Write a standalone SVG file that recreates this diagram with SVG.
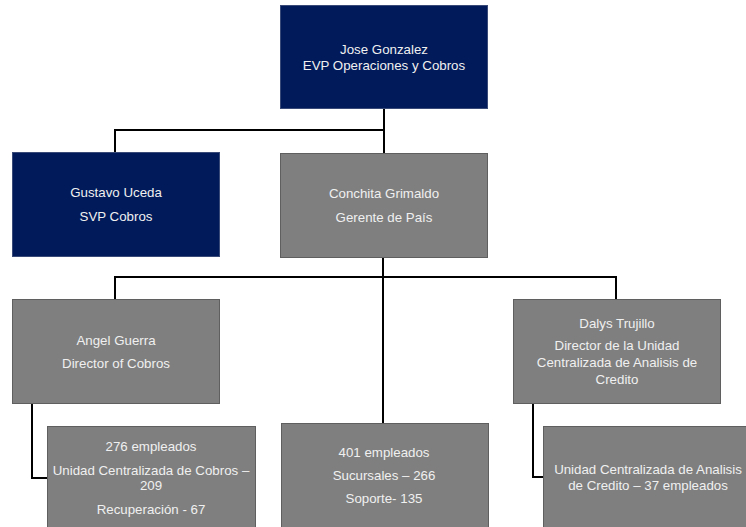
<svg xmlns="http://www.w3.org/2000/svg" width="746" height="527" viewBox="0 0 746 527">
<style>
.navy{fill:#001a5a;stroke:#3a4a78;stroke-width:1}
.grey{fill:#7f7f7f;stroke:#5f5f5f;stroke-width:1}
text{font-family:"Liberation Sans",Arial,sans-serif;font-size:13.3px;fill:#f0f0f0;text-anchor:middle}
.conn{fill:none;stroke:#000;stroke-width:2}
</style>
<rect width="746" height="527" fill="#fff"/>
<g id="connectors">
<path class="conn" d="M384 108 V153"/>
<path class="conn" d="M384 130 H115 V152"/>
<path class="conn" d="M383 257 V423"/>
<path class="conn" d="M115 299 V277 H616 V299"/>
<path class="conn" d="M32 403 V478 H47"/>
<path class="conn" d="M533 403 V477 H543"/>
</g>
<g id="jose">
<rect class="navy" x="280.5" y="5.5" width="207" height="103"/>
<text x="384" y="54">Jose Gonzalez</text>
<text x="384" y="70">EVP Operaciones y Cobros</text>
</g>
<g id="gustavo">
<rect class="navy" x="12.5" y="152.5" width="207" height="104"/>
<text x="116" y="197">Gustavo Uceda</text>
<text x="116" y="221">SVP Cobros</text>
</g>
<g id="conchita">
<rect class="grey" x="280.5" y="153.5" width="207" height="104"/>
<text x="384" y="198">Conchita Grimaldo</text>
<text x="384" y="222">Gerente de País</text>
</g>
<g id="angel">
<rect class="grey" x="12.5" y="299.5" width="207" height="104"/>
<text x="116" y="345">Angel Guerra</text>
<text x="116" y="368">Director of Cobros</text>
</g>
<g id="dalys">
<rect class="grey" x="513.5" y="299.5" width="207" height="104"/>
<text x="617" y="328">Dalys Trujillo</text>
<text x="617" y="350">Director de la Unidad</text>
<text x="617" y="367">Centralizada de Analisis de</text>
<text x="617" y="384">Credito</text>
</g>
<g id="cobros">
<rect class="grey" x="47.5" y="426.5" width="208" height="110"/>
<text x="151" y="451">276 empleados</text>
<text x="151" y="475">Unidad Centralizada de Cobros –</text>
<text x="151" y="490">209</text>
<text x="151" y="514">Recuperación - 67</text>
</g>
<g id="sucursales">
<rect class="grey" x="281.5" y="423.5" width="207" height="110"/>
<text x="384" y="457">401 empleados</text>
<text x="384" y="480">Sucursales – 266</text>
<text x="384" y="503">Soporte- 135</text>
</g>
<g id="analisis">
<rect class="grey" x="543.5" y="426.5" width="210" height="110"/>
<text x="648" y="474">Unidad Centralizada de Analisis</text>
<text x="648" y="490">de Credito – 37 empleados</text>
</g>
</svg>
